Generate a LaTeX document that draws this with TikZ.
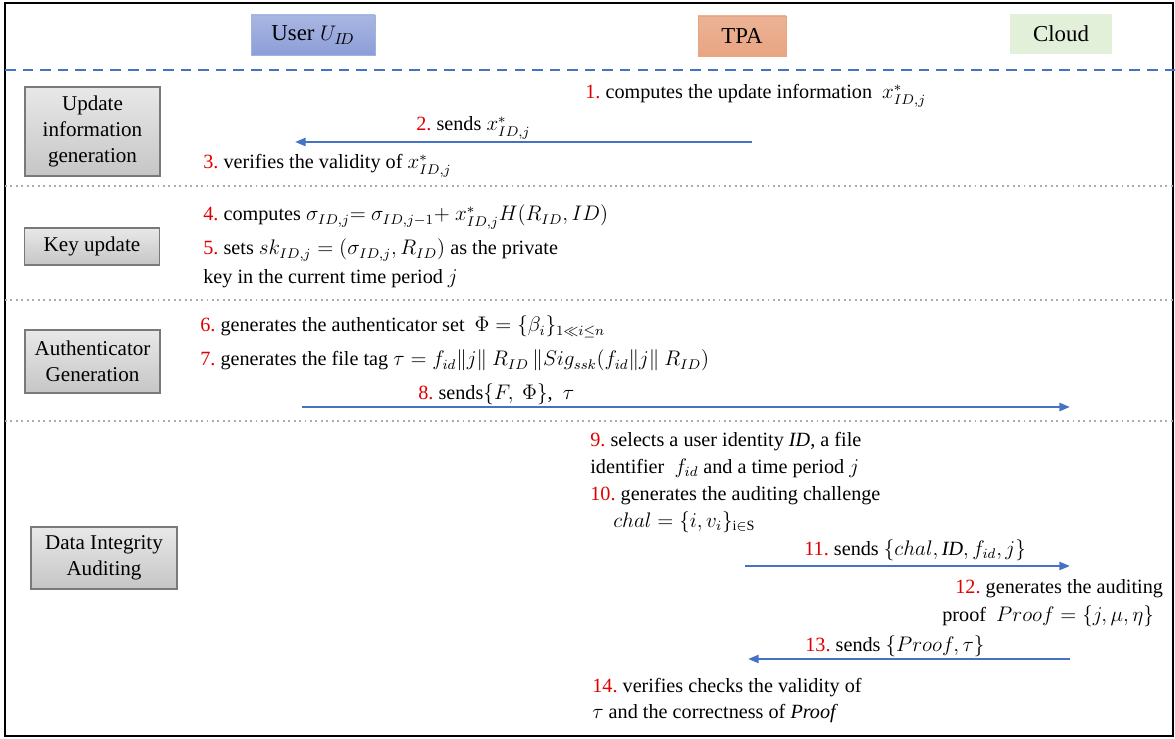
\documentclass[tikz,border=0pt]{standalone}
\usepackage{fontspec}
\setmainfont{Liberation Serif}
\usepackage{xcolor}
\usetikzlibrary{arrows.meta, positioning, shadings}

\definecolor{flowblue}{HTML}{4472C4}
\definecolor{stepred}{HTML}{E00000}
\definecolor{userblue}{HTML}{8C9ED8}
\definecolor{tpaorange}{HTML}{E8A583}
\definecolor{cloudgreen}{HTML}{E2EFD9}
\newcommand{\stepnum}[1]{\textcolor{stepred}{#1.}\ }

\begin{document}
\begin{tikzpicture}[x=0.02cm, y=-0.02cm,
    font=\fontsize{11.5}{13}\selectfont,
    actor/.style={minimum height=0.8cm, inner sep=0pt, font=\fontsize{13}{15}\selectfont},
    phase/.style={draw=gray!95!black, line width=1.1pt, top color=gray!18, bottom color=gray!45,
      align=center, inner sep=0pt, minimum width=2.7cm, font=\fontsize{12}{14.8}\selectfont},
    msg/.style={anchor=base west, inner sep=0pt},
    flow/.style={flowblue, line width=1.3pt, -{Triangle[length=6pt, width=4.5pt]}},
    sepline/.style={gray!65, line width=1.1pt, dotted}
  ]
  \useasboundingbox (0,0) rectangle (1175,739);

  % frame
  \draw[line width=1pt] (5,3) rectangle (1173,736);

  % parties
  \node[actor, minimum width=2.48cm, draw=userblue!80, top color=userblue!75, bottom color=userblue] (user) at (313,35) {User $U_{I\!D}$};
  \node[actor, minimum width=1.76cm, draw=tpaorange, top color=tpaorange!85, bottom color=tpaorange] (tpa) at (742,36) {TPA};
  \node[actor, minimum width=2.04cm, fill=cloudgreen] (cloud) at (1061,34) {Cloud};

  % separators
  \draw[flowblue, line width=1.7pt, dash pattern=on 6pt off 4pt] (5,70) -- (1175,70);
  \foreach \y in {186,300,421}
    \draw[sepline] (5,\y) -- (1173,\y);

  % phases
  \node[phase, minimum height=1.78cm] (updinfo) at (92.5,131.5) {Update\\information\\generation};
  \node[phase, minimum height=0.74cm] (keyupd) at (92,246.5) {Key update};
  \node[phase, minimum height=1.26cm] (authgen) at (92.5,361.5) {Authenticator\\Generation};
  \node[phase, minimum height=1.24cm, minimum width=2.92cm] (audit) at (104,558) {Data Integrity\\Auditing};

  % update information generation
  \node[msg] (s1) at (585,99) {\stepnum{1}computes the update information \ $x^{*}_{ID,j}$};
  \node[msg] (s2) at (416,131) {\stepnum{2}sends $x^{*}_{ID,j}$};
  \node[msg] (s3) at (203,169) {\stepnum{3}verifies the validity of $x^{*}_{ID,j}$};

  % key update
  \node[msg] (s4) at (203,221) {\stepnum{4}computes $\sigma_{ID,j}{=}\ \sigma_{ID,j-1}{+}\ x^{*}_{ID,j}H(R_{ID},ID)$};
  \node[msg] (s5) at (203,255) {\stepnum{5}sets $sk_{ID,j}=(\sigma_{ID,j},R_{ID})$ as the private};
  \node[msg] (s5b) at (203,284) {key in the current time period $j$};

  % authenticator generation
  \node[msg] (s6) at (200,332) {\stepnum{6}generates the authenticator set \ $\Phi=\{\beta_i\}_{1\ll i\leq n}$};
  \node[msg] (s7) at (200,366) {\stepnum{7}generates the file tag $\tau=f_{id}\|j\|\ R_{ID}\,\|Sig_{ssk}(f_{id}\|j\|\ R_{ID})$};
  \node[msg] (s8) at (418,399) {\stepnum{8}sends$\{F,\ \Phi\}$,\ \ $\tau$};

  % data integrity auditing
  \node[msg] (s9) at (590,446) {\stepnum{9}selects a user identity \textit{ID}, a file};
  \node[msg] (s9b) at (590,473) {identifier \ $f_{id}$ and a time period $j$};
  \node[msg] (s10) at (590,500) {\stepnum{10}generates the auditing challenge};
  \node[msg] (s10b) at (613,527) {$chal=\{i,v_i\}_{\mathrm{i}\in\mathrm{S}}$};
  \node[msg] (s11) at (804,555) {\stepnum{11}sends $\{chal,\mathit{ID},f_{id},j\}$};
  \node[msg] (s12) at (955,593) {\stepnum{12}generates the auditing};
  \node[msg] (s12b) at (942,621) {proof \ $Proof=\{j,\mu,\eta\}$};
  \node[msg] (s13) at (805,651) {\stepnum{13}sends $\{Proof,\tau\}$};
  \node[msg] (s14) at (592,692) {\stepnum{14}verifies checks the validity of};
  \node[msg] (s14b) at (592,718) {$\tau$ and the correctness of \textit{Proof}};

  % messages
  \foreach \from/\to/\y [count=\k] in {752/295/142, 302/1070/407, 745/1070/566, 1070/748/659} {
      \coordinate (m\k s) at (\from,\y);
      \coordinate (m\k e) at (\to,\y);
      \draw[flow] (m\k s) -- (m\k e);
    }
\end{tikzpicture}
\end{document}
